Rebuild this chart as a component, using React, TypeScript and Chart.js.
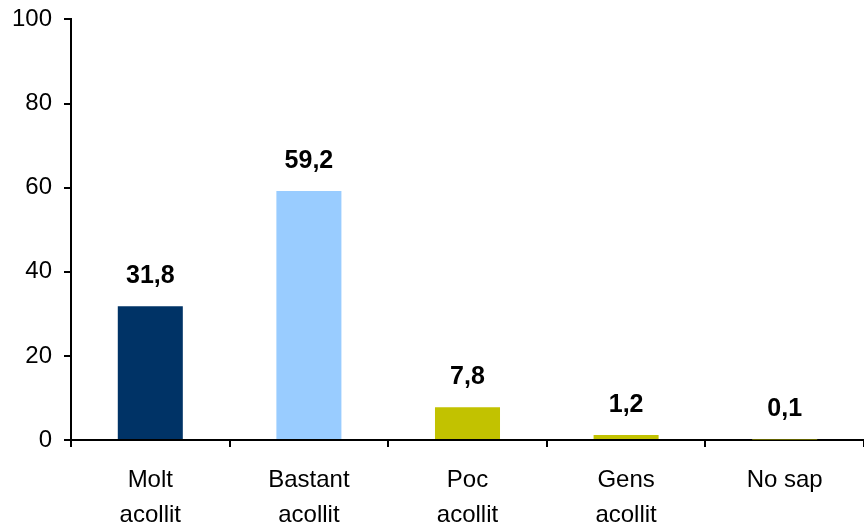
import React, { useEffect, useRef } from "react";
import { Chart, registerables } from "chart.js";

Chart.register(...registerables);

const categories: string[][] = [
  ["Molt", "acollit"],
  ["Bastant", "acollit"],
  ["Poc", "acollit"],
  ["Gens", "acollit"],
  ["No sap"],
];
const values: number[] = [31.8, 59.2, 7.8, 1.2, 0.1];
const barColors: string[] = ["#003366", "#99CCFF", "#C2C200", "#C2C200", "#C2C200"];
const yTicks: number[] = [0, 20, 40, 60, 80, 100];

const FONT = "'Liberation Sans', Arial, sans-serif";

const valueLabels = {
  id: "valueLabels",
  afterDatasetsDraw(chart: any) {
    const ctx = chart.ctx;
    const meta = chart.getDatasetMeta(0);
    ctx.save();
    ctx.font = `bold 25px ${FONT}`;
    ctx.fillStyle = "#000";
    ctx.textAlign = "center";
    ctx.textBaseline = "middle";
    meta.data.forEach((bar: any, i: number) => {
      const v = values[i];
      ctx.fillText(v.toFixed(1).replace(".", ","), bar.x, bar.y - 30);
    });
    ctx.restore();
  },
};

export default function App() {
  const ref = useRef<HTMLCanvasElement | null>(null);
  useEffect(() => {
    if (!ref.current) return;
    const chart = new Chart(ref.current, {
      type: "bar",
      data: {
        labels: categories,
        datasets: [
          {
            data: values,
            backgroundColor: barColors,
            borderWidth: 0,
            barPercentage: 0.82,
            categoryPercentage: 0.5,
          },
        ],
      },
      options: {
        animation: false,
        responsive: false,
        maintainAspectRatio: false,
        layout: { padding: { top: 0, right: 0, left: 0, bottom: 0 } },
        plugins: {
          legend: { display: false },
          tooltip: { enabled: false },
        },
        scales: {
          x: {
            afterFit(scale: any) {
              scale.height = 86;
            },
            border: { display: true, color: "#000", width: 2 },
            grid: {
              offset: true,
              drawOnChartArea: false,
              drawTicks: true,
              tickLength: 7,
              color: "#000",
              lineWidth: 2,
            },
            ticks: {
              color: "#000",
              font: { family: FONT, size: 24, lineHeight: 1.46 },
              padding: 16,
              maxRotation: 0,
              autoSkip: false,
            },
          },
          y: {
            min: 0,
            max: 100,
            afterFit(scale: any) {
              scale.width = 71;
            },
            afterBuildTicks(scale: any) {
              scale.ticks = yTicks.map((v) => ({ value: v }));
            },
            border: { display: true, color: "#000", width: 2 },
            grid: {
              drawOnChartArea: false,
              drawTicks: true,
              tickLength: 7,
              color: "#000",
              lineWidth: 2,
            },
            ticks: {
              color: "#000",
              font: { family: FONT, size: 24 },
              padding: 12,
            },
          },
        },
      },
      plugins: [valueLabels],
    });
    return () => chart.destroy();
  }, []);
  return (
    <div style={{ position: "absolute", left: 0, top: 0, width: 864, height: 526, overflow: "hidden", background: "#fff" }}>
      <canvas
        ref={ref}
        width={864}
        height={533}
        style={{ position: "absolute", left: 0, top: -7, width: 864, height: 533 }}
      />
    </div>
  );
}
